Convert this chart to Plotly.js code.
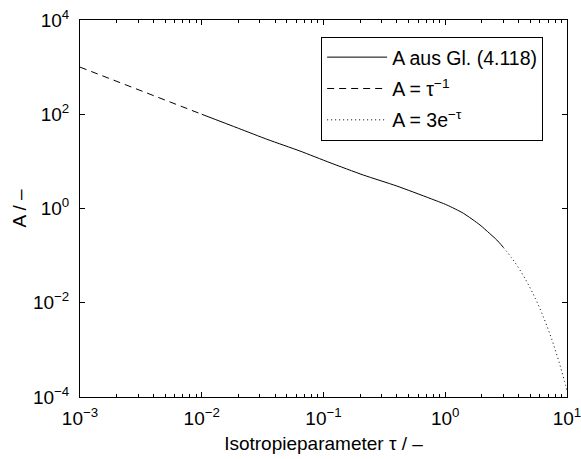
<!DOCTYPE html>
<html>
<head>
<meta charset="utf-8">
<script src="https://cdn.plot.ly/plotly-3.0.1.min.js"></script>
<style>
  html, body { margin: 0; padding: 0; background: #fff; }
  #chart { width: 581px; height: 459px; }
</style>
</head>
<body>
<div id="chart"></div>
<script>
// A from Gl. (4.118) over the isotropy parameter tau
var tauSolid = [0.01, 0.02, 0.035, 0.064, 0.113, 0.212, 0.4, 0.75, 1.03, 1.41, 1.93, 2.3, 2.65, 3.0];
var aSolid   = [100, 50.3, 28.9, 16.6, 9.38, 5.14, 3.0, 1.64, 1.19, 0.79, 0.447, 0.30, 0.215, 0.150];

// asymptote A = 1/tau for small tau
var tauDash = [0.001, 0.01];
var aDash   = [1000, 100];

// asymptote A = 3 e^-tau for large tau
var tauDot = [3, 3.5, 4, 4.5, 5, 5.5, 6, 6.5, 7, 7.5, 8, 8.5, 9, 9.5, 10];
var aDot   = [0.149, 0.0906, 0.055, 0.0333, 0.0202, 0.0123, 0.00744, 0.00451,
              0.00274, 0.00166, 0.00101, 0.000611, 0.00037, 0.000225, 0.000136];

// tick labels
var xTickVals = [0.001, 0.01, 0.1, 1, 10];
var xTickText = ['10<sup>\u22123</sup>', '10<sup>\u22122</sup>', '10<sup>\u22121</sup>', '10<sup>0</sup>', '10<sup>1</sup>'];
var yTickVals = [1e-4, 1e-2, 1, 1e2, 1e4];
var yTickText = ['10<sup>\u22124</sup>', '10<sup>\u22122</sup>', '10<sup>0</sup>', '10<sup>2</sup>', '10<sup>4</sup>'];

var labels = ['A aus Gl. (4.118)', 'A = \u03c4<sup>\u22121</sup>', 'A = 3e<sup>\u2212\u03c4</sup>'];

// minor ticks at 2..9 within each decade
var xMinor = [];
for (var d = -3; d < 1; d++) {
  for (var m = 2; m <= 9; m++) xMinor.push(m * Math.pow(10, d));
}

var FONT = 'Liberation Sans, Arial, Helvetica, sans-serif';

var traces = [
  { x: tauSolid, y: aSolid, name: labels[0], legendgroup: 'g1', mode: 'lines',
    line: { color: '#000', width: 1, shape: 'spline', smoothing: 0.6 } },
  { x: tauDash, y: aDash, name: labels[1], legendgroup: 'g2', mode: 'lines',
    line: { color: '#000', width: 1, dash: '7px,5px' } },
  { x: tauDot, y: aDot, name: labels[2], legendgroup: 'g3', mode: 'lines',
    line: { color: '#000', width: 1, dash: '1px,3px', shape: 'spline' } }
];

var axisCommon = {
  type: 'log',
  showgrid: false,
  zeroline: false,
  showline: true,
  linecolor: '#000',
  linewidth: 1,
  mirror: 'ticks',
  ticks: 'inside',
  ticklen: 5,
  tickcolor: '#000',
  tickwidth: 1,
  tickmode: 'array',
  ticklabeloverflow: 'allow',
  tickfont: { family: FONT, size: 19, color: '#000' }
};

var layout = {
  width: 581,
  height: 459,
  margin: { l: 80, r: 14, t: 20, b: 62 },
  paper_bgcolor: '#fff',
  plot_bgcolor: '#fff',
  font: { family: FONT, size: 19, color: '#000' },
  xaxis: Object.assign({}, axisCommon, {
    range: [-3, 1],
    tickvals: xTickVals,
    ticktext: xTickText,
    ticklabelstandoff: 4,
    minor: { tickmode: 'array', tickvals: xMinor, ticks: 'inside', ticklen: 3, tickcolor: '#000', tickwidth: 1 },
    title: { text: 'Isotropieparameter \u03c4 / \u2013', font: { family: FONT, size: 19, color: '#000' }, standoff: 8 }
  }),
  yaxis: Object.assign({}, axisCommon, {
    range: [-4, 4],
    tickvals: yTickVals,
    ticktext: yTickText,
    ticklabelstandoff: 6,
    title: { text: 'A / \u2013', font: { family: FONT, size: 19, color: '#000' }, standoff: 1 }
  }),
  showlegend: true,
  legend: {
    x: 0.951, y: 0.955, xanchor: 'right', yanchor: 'top',
    bgcolor: '#fff', bordercolor: '#000', borderwidth: 1,
    font: { family: FONT, size: 19.5, color: '#000' },
    itemwidth: 60,
    tracegroupgap: 3
  }
};

Plotly.newPlot('chart', traces, layout, { displayModeBar: false, staticPlot: true });
</script>
</body>
</html>
